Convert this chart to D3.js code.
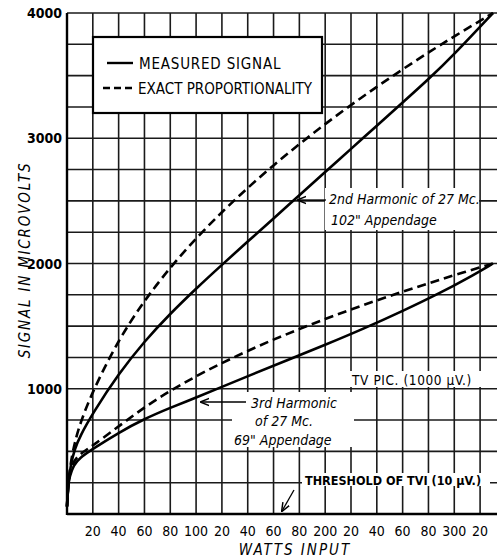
<!DOCTYPE html>
<html>
<head>
<meta charset="utf-8">
<script src="https://cdn.jsdelivr.net/npm/d3@7"></script>
<style>
  body { margin: 0; background: #fff; }
  svg { display: block; }
</style>
</head>
<body>
<svg id="chart"></svg>
<script>
var width = 498, height = 560;
var margin = {top: 13, right: 5, bottom: 46, left: 67};

// watts input vs signal (microvolts)
var watts2nd = [0, 1, 3, 6, 10, 20, 40, 60, 80, 100, 120, 140, 160, 180, 200, 220, 240, 260, 280, 300, 330];
var meas2nd  = [60, 250, 400, 520, 620, 806, 1120, 1380, 1600, 1800, 1990, 2175, 2360, 2545, 2730, 2915, 3100, 3285, 3470, 3670, 4000];
var wattsP2  = [0, 1, 3, 6, 10, 20, 40, 60, 80, 100, 120, 140, 160, 180, 200, 220, 240, 260, 280, 300, 330];
var prop2nd  = [60, 260, 420, 570, 720, 985, 1393, 1706, 1970, 2202, 2412, 2605, 2785, 2954, 3114, 3266, 3411, 3551, 3685, 3814, 4000];
var watts3rd = [0, 1, 2, 5, 10, 20, 40, 60, 80, 100, 120, 140, 170, 200, 230, 260, 290, 310, 330];
var meas3rd  = [60, 240, 295, 390, 450, 520, 650, 760, 848, 930, 1015, 1100, 1225, 1350, 1480, 1620, 1770, 1880, 2000];
var wattsP3  = [0, 1, 4, 10, 20, 40, 60, 80, 100, 120, 140, 160, 180, 200, 220, 240, 260, 280, 300, 330];
var prop3rd  = [60, 270, 410, 480, 545, 700, 853, 985, 1101, 1206, 1303, 1393, 1477, 1557, 1633, 1706, 1775, 1842, 1907, 2000];

var xTicks = [20, 40, 60, 80, 100, 120, 140, 160, 180, 200, 220, 240, 260, 280, 300, 320];
var xTickLabels = ["20", "40", "60", "80", "100", "20", "40", "60", "80", "200", "20", "40", "60", "80", "300", "20"];
var yTicks = [1000, 2000, 3000, 4000];
var yGrid = d3.range(250, 4001, 250);

var svg = d3.select("#chart").attr("width", width).attr("height", height);

var x = d3.scaleLinear().domain([0, 330]).range([margin.left, 493]);
var y = d3.scaleLinear().domain([0, 4000]).range([514, margin.top]);

var font = "'DejaVu Sans Condensed', 'Liberation Sans Narrow', sans-serif";
var hand = "'Liberation Sans Narrow', 'DejaVu Sans Condensed', sans-serif";

// grid
var grid = svg.append("g").attr("stroke", "#1a1a1a").attr("stroke-width", 1.6);
grid.selectAll(".v").data(xTicks).enter().append("line")
    .attr("x1", d => x(d)).attr("x2", d => x(d))
    .attr("y1", y(0)).attr("y2", y(4000));
grid.selectAll(".h").data(yGrid).enter().append("line")
    .attr("x1", x(0)).attr("x2", 497)
    .attr("y1", d => y(d)).attr("y2", d => y(d));

// axes (thick left and bottom)
svg.append("line").attr("x1", x(0)).attr("x2", x(0)).attr("y1", y(0) + 1).attr("y2", y(4000))
    .attr("stroke", "#000").attr("stroke-width", 2.4);
svg.append("line").attr("x1", x(0)).attr("x2", 497).attr("y1", y(0)).attr("y2", y(0))
    .attr("stroke", "#000").attr("stroke-width", 2.4);

// white patches behind the lettering
function patch(x0, y0, w, h) {
  svg.append("rect").attr("x", x0).attr("y", y0).attr("width", w).attr("height", h).attr("fill", "#fff");
}
patch(325, 188, 154, 42);
patch(349, 371, 134, 16);
patch(232, 392, 122, 55);
patch(302, 473, 188, 13);

// tick labels
svg.append("g").selectAll("text").data(xTicks).enter().append("text")
    .attr("x", d => x(d)).attr("y", 536)
    .attr("text-anchor", "middle").attr("fill", "#000")
    .style("font-family", font).style("font-size", "14px")
    .text((d, i) => xTickLabels[i]);

svg.append("g").selectAll("text").data(yTicks).enter().append("text")
    .attr("x", 62).attr("y", d => y(d) + 5)
    .attr("text-anchor", "end").attr("fill", "#000")
    .style("font-family", font).style("font-size", "14px").style("font-weight", "bold")
    .text(d => d);

svg.append("text")
    .attr("transform", "translate(30,260) rotate(-90)")
    .attr("text-anchor", "middle").attr("fill", "#000")
    .style("font-family", font).style("font-size", "15px").style("font-style", "italic")
    .style("letter-spacing", "1.8px")
    .text("SIGNAL IN MICROVOLTS");

svg.append("text")
    .attr("x", 295).attr("y", 555)
    .attr("text-anchor", "middle").attr("fill", "#000")
    .style("font-family", font).style("font-size", "15px").style("font-style", "italic")
    .style("letter-spacing", "2px")
    .text("WATTS INPUT");

// curves
var line = d3.line().x(d => x(d[0])).y(d => y(d[1])).curve(d3.curveBasis);
function curve(ws, vs, dashed) {
  svg.append("path")
      .datum(ws.map((w, i) => [w, vs[i]]))
      .attr("d", line)
      .attr("fill", "none")
      .attr("stroke", "#000")
      .attr("stroke-width", 2.6)
      .attr("stroke-dasharray", dashed ? "9,5" : null);
}
curve(wattsP2, prop2nd, true);
curve(watts2nd, meas2nd, false);
curve(wattsP3, prop3rd, true);
curve(watts3rd, meas3rd, false);

// legend
svg.append("rect").attr("x", 93).attr("y", 37).attr("width", 229).attr("height", 76)
    .attr("fill", "#fff").attr("stroke", "#000").attr("stroke-width", 2.2);
svg.append("line").attr("x1", 107).attr("x2", 133).attr("y1", 63).attr("y2", 63)
    .attr("stroke", "#000").attr("stroke-width", 2.4);
svg.append("line").attr("x1", 103).attr("x2", 134).attr("y1", 88).attr("y2", 88)
    .attr("stroke", "#000").attr("stroke-width", 2.4).attr("stroke-dasharray", "7,4");
svg.append("text").attr("x", 139).attr("y", 69).attr("fill", "#000")
    .style("font-family", font).style("font-size", "15px").style("letter-spacing", "0.8px")
    .text("MEASURED SIGNAL");
svg.append("text").attr("x", 138).attr("y", 94).attr("fill", "#000")
    .style("font-family", font).style("font-size", "15px")
    .text("EXACT PROPORTIONALITY");

// annotations
var defs = svg.append("defs");
defs.append("marker").attr("id", "arr").attr("viewBox", "0 0 10 10")
    .attr("refX", 9).attr("refY", 5).attr("markerWidth", 7).attr("markerHeight", 7)
    .attr("orient", "auto")
  .append("path").attr("d", "M0,1 L10,5 L0,9").attr("fill", "none")
    .attr("stroke", "#000").attr("stroke-width", 1.6);

function note(tx, ty, txt) {
  svg.append("text").attr("x", tx).attr("y", ty).attr("fill", "#000")
      .style("font-family", hand).style("font-style", "italic")
      .style("font-size", "14px").text(txt);
}
note(329, 204, "2nd Harmonic of 27 Mc.");
note(331, 225, "102\" Appendage");
note(251, 408, "3rd Harmonic");
note(255, 426, "of 27 Mc.");
note(234, 445, "69\" Appendage");

svg.append("text").attr("x", 352).attr("y", 385).attr("fill", "#000")
    .style("font-family", font).style("font-size", "13.5px").style("letter-spacing", "0.6px")
    .text("TV  PIC. (1000 \u00B5V.)");
svg.append("text").attr("x", 305).attr("y", 485).attr("fill", "#000")
    .style("font-family", font).style("font-size", "12.5px").style("font-weight", "bold")
    .text("THRESHOLD OF TVI  (10 \u00B5V.)");

function arrow(x1, y1, x2, y2) {
  svg.append("line").attr("x1", x1).attr("y1", y1).attr("x2", x2).attr("y2", y2)
      .attr("stroke", "#000").attr("stroke-width", 1.3).attr("marker-end", "url(#arr)");
}
arrow(326, 200, 298, 200);
arrow(246, 402, 201, 402);
arrow(294, 490, 282, 511);
</script>
</body>
</html>
